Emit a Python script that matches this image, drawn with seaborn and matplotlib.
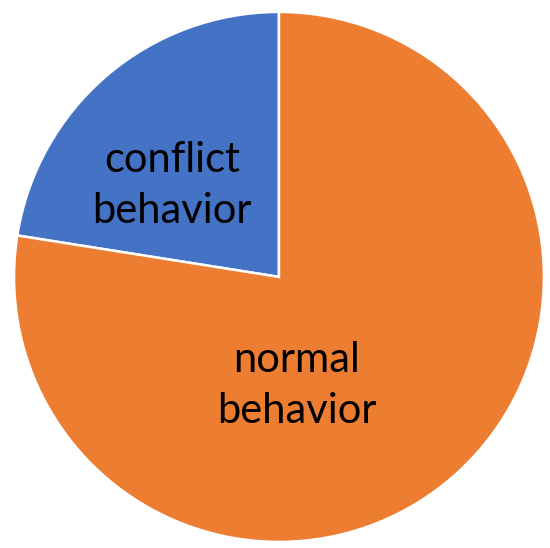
import matplotlib

matplotlib.use("Agg")
import matplotlib.pyplot as plt
import seaborn as sns

# Data
categories = ["conflict\nbehavior", "normal\nbehavior"]
shares = [22.5, 77.5]
colors = ["#4472C4", "#ED7D31"]
label_pos = [(-0.404, 0.345), (0.068, -0.41)]

sns.set_theme(style="white")
plt.rcParams["font.family"] = ["Lato", "DejaVu Sans"]

fig = plt.figure(figsize=(5.5, 5.48), dpi=100)
ax = fig.add_axes([0, 0, 1, 1])
ax.pie(
    shares,
    colors=sns.color_palette(colors),
    startangle=90,
    counterclock=True,
    radius=1.0,
    wedgeprops={"edgecolor": "white", "linewidth": 1.8},
)
for text, (x, y) in zip(categories, label_pos):
    ax.text(x, y, text, ha="center", va="center", fontsize=30,
            color="black", linespacing=1.4)

ax.set_xlim(-1.053, 1.023)
ax.set_ylim(-1.023, 1.045)
ax.set_aspect("auto")
ax.axis("off")
fig.savefig("out.png", dpi=100, facecolor="white")
